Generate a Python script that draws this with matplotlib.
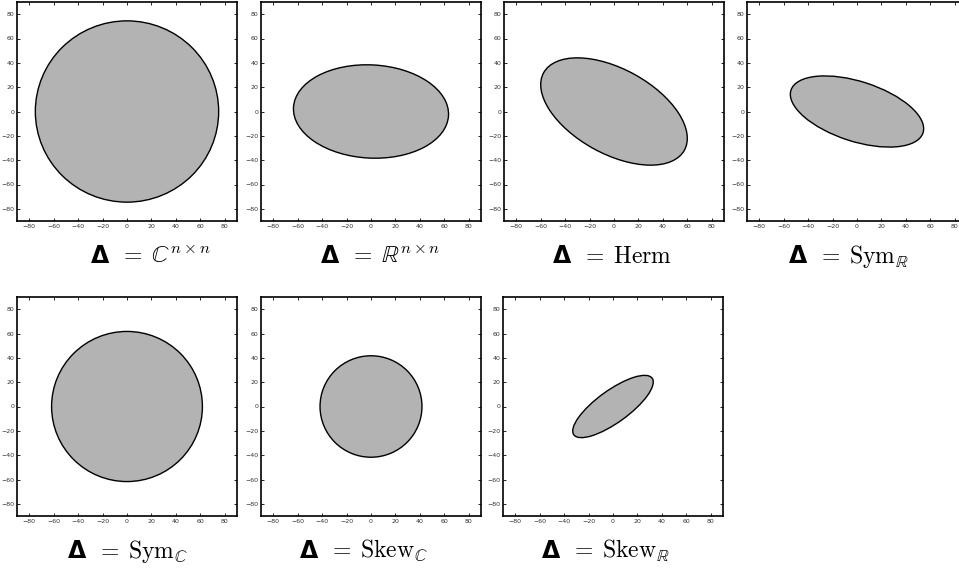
import numpy as np
import matplotlib
matplotlib.use('Agg')
import matplotlib.pyplot as plt
from matplotlib.patches import Ellipse
from matplotlib.transforms import offset_copy

plt.rcParams['mathtext.fontset'] = 'cm'

# ellipse data per panel: semi-axes (a, b) and tilt angle in degrees
labels = [r'$=\;\mathbb{C}^{n\times n}$',
          r'$=\;\mathbb{R}^{n\times n}$',
          r'$=\;\mathrm{Herm}$',
          r'$=\;\mathrm{Sym}_{\mathbb{R}}$',
          r'$=\;\mathrm{Sym}_{\mathbb{C}}$',
          r'$=\;\mathrm{Skew}_{\mathbb{C}}$',
          r'$=\;\mathrm{Skew}_{\mathbb{R}}$']
semi_a = [75.0, 63.5, 65.8, 56.8, 61.7, 41.7, 39.6]
semi_b = [74.5, 38.3, 34.8, 24.6, 61.7, 41.7, 13.2]
angles = [0.0, -3.0, -29.0, -18.0, 0.0, 0.0, 36.0]
ticks = [-80, -60, -40, -20, 0, 20, 40, 60, 80]

W, H = 959, 572
fig = plt.figure(figsize=(W / 100, H / 100), dpi=100)

# axes placement in pixels (left, top) - the 4th one runs off the right edge
lefts = [17, 261, 504, 747, 17, 261, 503]
tops = [2, 2, 2, 2, 297, 297, 297]
label_off = [74, 60, 49, 42, 51, 39, 39]
aw, ah = 220, 219

for i in range(7):
    ax = fig.add_axes([lefts[i] / W, 1 - (tops[i] + ah) / H, aw / W, ah / H])
    e = Ellipse((0, 0), 2 * semi_a[i], 2 * semi_b[i], angle=angles[i],
                facecolor='#b3b3b3', edgecolor='black', linewidth=1.0)
    ax.add_patch(e)
    ax.set_xlim(-90, 90)
    ax.set_ylim(-90, 90)
    ax.set_xticks(ticks)
    ax.set_yticks(ticks)
    ax.tick_params(direction='in', length=2, width=0.6, labelsize=4.5,
                   top=True, right=True, pad=2, labelcolor='#333333')
    for s in ax.spines.values():
        s.set_linewidth(1.2)
    # bold Delta, then the rest of the label
    ax.text(label_off[i] / aw, -42 / ah, '\u0394', transform=ax.transAxes,
            ha='left', va='baseline', fontsize=17, family='DejaVu Sans',
            weight='bold')
    tr = offset_copy(ax.transAxes, fig=fig, x=28, y=0, units='dots')
    ax.text(label_off[i] / aw, -42 / ah, labels[i], transform=tr,
            ha='left', va='baseline', fontsize=17)

fig.savefig('out.png', dpi=100)
